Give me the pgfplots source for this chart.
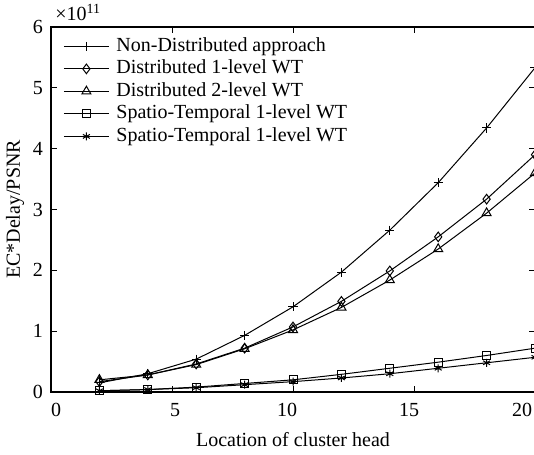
\documentclass[border=0pt]{standalone}
\usepackage{fontspec}
\setmainfont{Liberation Serif}
\usepackage{pgfplots}
\pgfplotsset{compat=1.18}
\usetikzlibrary{calc}

% values in units of 1e11
\pgfplotstableread{
x   nd    d1    d2    st1   st2
2   0.15  0.17  0.20  0.02  0.02
4   0.30  0.28  0.28  0.04  0.04
6   0.54  0.46  0.45  0.08  0.07
8   0.93  0.72  0.71  0.14  0.12
10  1.40  1.07  1.02  0.20  0.17
12  1.97  1.49  1.39  0.29  0.23
14  2.66  1.99  1.84  0.39  0.30
16  3.44  2.55  2.35  0.49  0.39
18  4.34  3.17  2.94  0.60  0.48
20  5.33  3.90  3.60  0.72  0.57
}\datatab

\newcommand{\gap}[1]{\rule{#1}{0pt}}

\begin{document}
\begin{tikzpicture}
\begin{axis}[
  name=ax,
  scale only axis,
  width=242pt, height=182.5pt,
  xmin=0, xmax=20, ymin=0, ymax=6,
  xtick={0,5,10,15,20},
  xticklabels={\gap{5pt}0,\gap{3pt}5,10\gap{6pt},15\gap{5pt},20\gap{13pt}},
  ytick={0,1,2,3,4,5,6},
  tick align=inside,
  major tick length=3pt,
  tick style={line width=0.5pt, black},
  axis line style={line width=1pt},
  every tick label/.append style={font=\fontsize{10}{12}\selectfont},
  /pgf/number format/assume math mode=true,
  xticklabel style={yshift=-2pt},
  yticklabel style={xshift=-0.5pt},
  xlabel={Location of cluster head},
  ylabel={EC*Delay/PSNR},
  xlabel style={at={(axis description cs:0.5,-0.13)}, anchor=center, font=\fontsize{10}{12}\selectfont},
  ylabel style={at={(axis description cs:-0.074,0.5)}, anchor=center, rotate=0, font=\fontsize{10}{12}\selectfont},
  legend style={at={(rel axis cs:0,1)}, anchor=north west, draw=none, fill=none,
    xshift=3pt, yshift=-3pt,
    font=\fontsize{10}{12}\selectfont, row sep=2.25pt,
    nodes={inner sep=0pt, text height=7pt, text depth=2pt}},
  legend cell align=left,
  legend image code/.code={\draw[mark repeat=2,mark phase=2,#1] plot coordinates {(0pt,0pt) (11.25pt,0pt) (22.5pt,0pt)};},
  every axis plot/.append style={black, line width=0.5pt},
  clip=false,
]
\addplot[mark=+, mark size=2.3pt] table[x=x,y=nd] {\datatab};
\addlegendentry{\hspace{3.5pt}Non-Distributed approach}
\addplot[mark=diamond, mark size=2.4pt, mark options={fill=none}] table[x=x,y=d1] {\datatab};
\addlegendentry{\hspace{3.5pt}Distributed 1-level WT}
\addplot[mark=triangle, mark size=2.6pt, mark options={fill=none}] table[x=x,y=d2] {\datatab};
\addlegendentry{\hspace{3.5pt}Distributed 2-level WT}
\addplot[mark=square, mark size=2pt, mark options={fill=none}] table[x=x,y=st1] {\datatab};
\addlegendentry{\hspace{3.5pt}Spatio-Temporal 1-level WT}
\addplot[mark=asterisk, mark size=2pt] table[x=x,y=st2] {\datatab};
\addlegendentry{\hspace{3.5pt}Spatio-Temporal 1-level WT}
\node[anchor=base west, inner sep=0pt, font=\fontsize{10}{12}\selectfont] at ([xshift=2pt,yshift=3pt]rel axis cs:0,1) {×10\textsuperscript{11}};
\end{axis}
\pgfresetboundingbox
\path[use as bounding box] ([shift={(-25.5pt,-31.5pt)}]ax.south west) rectangle ([shift={(-0.5pt,13.5pt)}]ax.north east);
\end{tikzpicture}
\end{document}
